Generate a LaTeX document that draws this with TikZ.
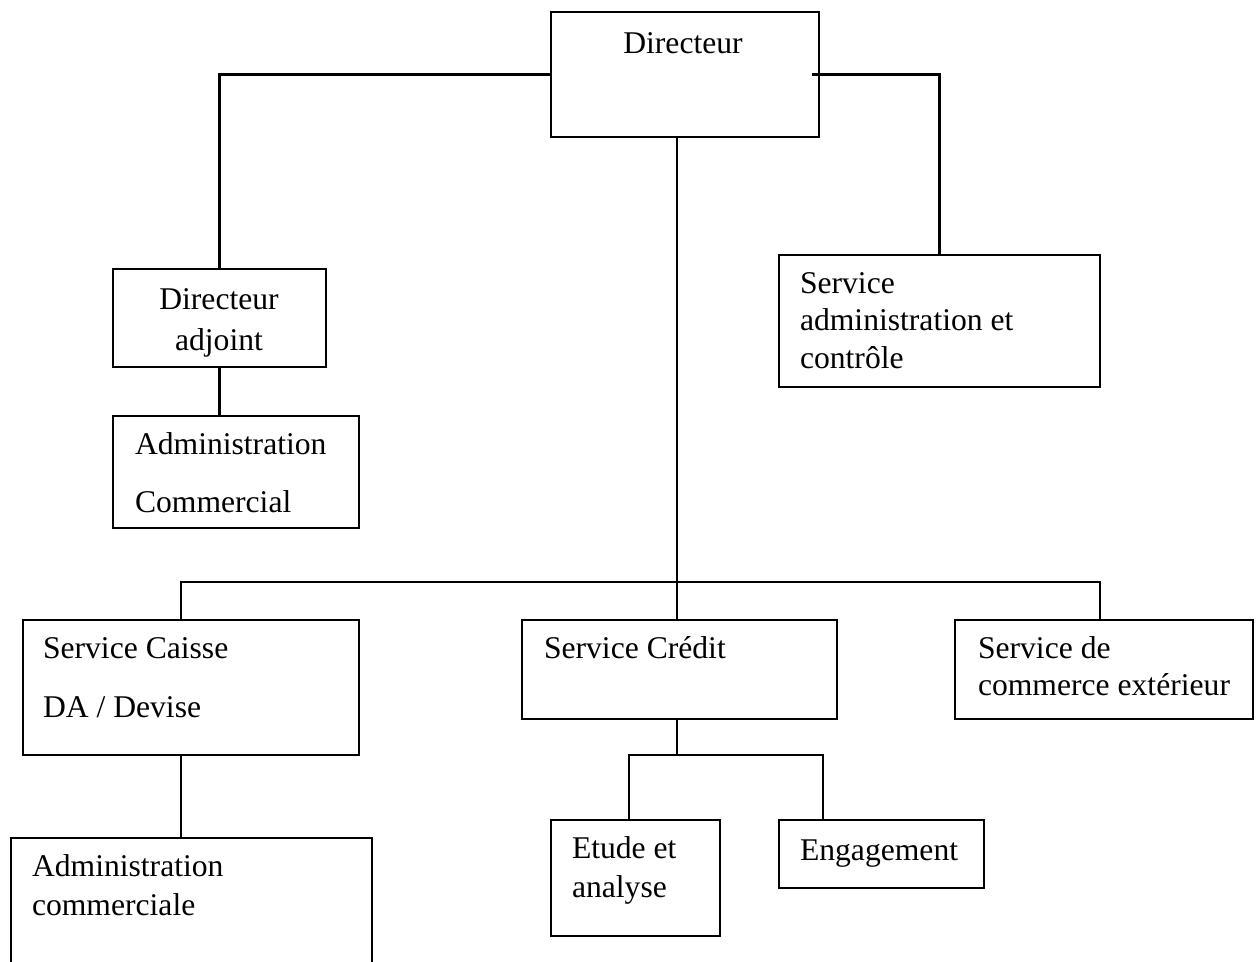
\documentclass[tikz,border=0pt]{standalone}
\usepackage{fontspec}
\setmainfont{Liberation Serif}
\usepackage{tikz}
\usetikzlibrary{positioning}
\usetikzlibrary{calc}
\usetikzlibrary{fit}
\tikzset{
	auto,
	every node/.style={anchor=base,outer sep=0pt,font=\fontsize{18}{22}\selectfont},
	box/.style={rectangle, draw, inner sep=0pt, anchor=center},
	txt/.style={anchor=base west, align=left, inner sep=0pt},
	mid/.style={anchor=base, align=center, inner sep=0pt}
}

\begin{document}
\begin{tikzpicture}[x=0.02cm, y=-0.02cm, line width=1.3pt]
	\useasboundingbox (0, 0) rectangle (1257, 961);
	\clip (0, 0) rectangle (1257, 961);
	% Boxes
	\node[box, fit={(551, 12) (819, 137)}] (1) {};
	\node[box, fit={(113, 269) (326, 367)}] (2) {};
	\node[box, fit={(113, 416) (359, 528)}] (3) {};
	\node[box, fit={(779, 255) (1100, 387)}] (4) {};
	\node[box, fit={(23, 620) (359, 755)}] (5) {};
	\node[box, fit={(522, 620) (837, 719)}] (6) {};
	\node[box, fit={(955, 620) (1253, 719)}] (7) {};
	\node[box, fit={(551, 820) (720, 936)}] (8) {};
	\node[box, fit={(779, 820) (984, 888)}] (9) {};
	\node[box, fit={(11, 838) (372, 990)}] (10) {};
	
	% Labels (base = last line)
	\node[mid] (t1) at (683, 53) {Directeur};
	\node[mid, font=\fontsize{18}{23}\selectfont] (t2) at (219, 350) {Directeur\\adjoint};
	\node[txt] (t3) at (135, 512) {Administration\\[11pt]Commercial};
	\node[txt, font=\fontsize{18}{21.3}\selectfont] (t4) at (800, 368) {Service\\administration et\\contrôle};
	\node[txt] (t5) at (43, 717) {Service Caisse\\[11.5pt]DA / Devise};
	\node[txt] (t6) at (544, 658) {Service Crédit};
	\node[txt, font=\fontsize{18}{21}\selectfont] (t7) at (978, 695) {Service de\\commerce extérieur};
	\node[txt] (t8) at (572, 897) {Etude et\\analyse};
	\node[txt] (t9) at (800, 860) {Engagement};
	\node[txt] (t10) at (32, 915) {Administration\\commerciale};
	
	% Links
	\coordinate (busL) at (181, 582);
	\coordinate (busM) at (677, 582);
	\coordinate (busR) at (1100, 582);
	\coordinate (subL) at (629, 755);
	\coordinate (subR) at (823, 755);
	\draw (1.west) -| (2.north);
	\draw ([xshift=-4]1.east) -| (4.north);
	\draw (2.south) -- (2.south |- 3.north);
	\draw (1.south -| busM) -- (6.north -| busM);
	\draw (5.north -| busL) |- (busR) -- (7.north -| busR);
	\draw (5.south -| busL) -- (10.north -| busL);
	\draw (6.south -| busM) -- (busM |- subL);
	\draw (8.north -| subL) |- (subR) -- (9.north -| subR);
\end{tikzpicture}
\end{document}
